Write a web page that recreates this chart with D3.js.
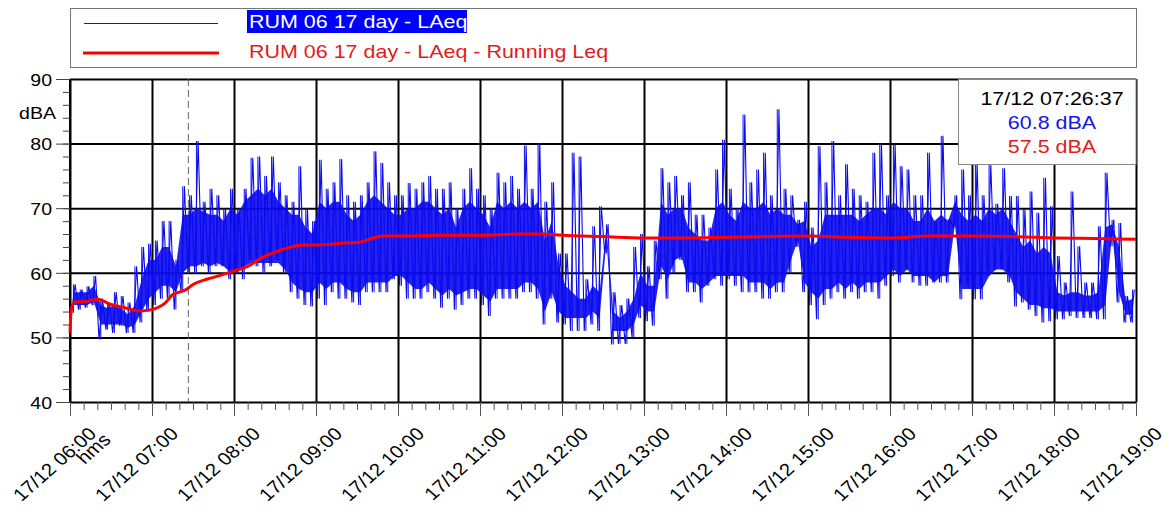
<!DOCTYPE html>
<html><head><meta charset="utf-8">
<script src="https://cdn.jsdelivr.net/npm/d3@7"></script>
<style>
html,body{margin:0;padding:0;background:#fff;}
svg{display:block;font-family:"Liberation Sans",Arial,sans-serif;}
</style></head><body>
<svg id="chart" width="1169" height="517"></svg>
<script>
// ---------------- data ----------------
const seriesNames = ["RUM 06 17 day - LAeq", "RUM 06 17 day - LAeq - Running Leq"];
const startTime = [2000, 11, 17, 6, 0, 0];
const endTime = [2000, 11, 17, 19, 0, 0];
const windowMinutes = 5;
// LAeq: min and max of each 5-minute window (dBA), 06:00 -> 19:00
const laeqLow = [
  53.8,54.3,54.6,55.0,49.7,51.2,50.7,51.8,50.7,50.7,52.3,54.0, // 06
  55.0,56.0,56.0,54.3,57.0,60.0,60.0,61.0,60.0,61.0,61.0,59.0, // 07
  60.0,59.0,62.0,61.0,60.0,61.0,62.0,60.0,57.0,56.0,55.0,54.8, // 08
  56.0,55.0,57.0,56.0,56.0,55.4,55.0,57.0,57.0,57.0,57.0,59.0, // 09
  58.0,56.0,56.0,56.0,57.0,56.0,54.6,56.0,54.3,55.0,56.0,56.0, // 10
  55.0,53.3,56.0,56.0,56.0,56.0,57.0,57.0,56.0,52.0,56.0,52.3, // 11
  52.0,51.0,51.0,51.0,52.0,51.0,63.0,48.9,49.0,49.0,50.0,53.0, // 12
  52.5,51.8,59.0,56.0,60.0,62.0,57.0,57.0,55.4,58.0,59.0,58.0, // 13
  59.0,58.0,57.0,57.0,57.0,56.0,56.0,57.0,57.0,60.0,64.0,57.0, // 14
  55.0,52.8,55.0,56.0,57.0,56.0,57.0,56.0,57.0,57.0,56.0,58.0, // 15
  59.5,58.5,60.5,58.5,58.0,58.0,58.5,58.5,58.5,67.0,55.9,57.9, // 16
  55.9,55.9,59.5,60.5,60.5,58.5,54.8,55.4,54.3,53.3,52.3,52.5, // 17
  52.8,52.8,53.3,53.0,53.0,53.0,52.8,52.8,64.1,55.4,52.3,52.3  // 18
];
const laeqHigh = [
  58.2,57.4,57.9,59.5,56.0,55.4,57.0,56.4,55.4,61.0,64.0,64.5, // 06
  65.0,68.0,68.0,62.0,73.4,72.0,80.4,71.0,73.0,72.0,70.0,73.0, // 07
  70.0,73.0,77.8,78.0,75.0,78.0,74.0,72.0,71.0,76.5,70.0,68.0, // 08
  77.5,73.0,74.0,77.6,72.0,71.0,72.0,74.0,78.8,77.0,74.0,72.0, // 09
  72.0,73.9,73.0,74.0,75.0,73.0,73.0,74.0,70.0,73.0,76.2,73.0, // 10
  72.0,70.0,75.5,74.0,75.0,73.0,79.7,73.0,80.1,71.0,74.0,63.0, // 11
  63.0,78.6,78.0,59.0,67.2,70.3,67.5,57.0,55.0,56.0,64.0,66.0, // 12
  61.0,65.0,76.2,74.0,75.0,72.0,74.0,69.0,69.0,67.0,76.0,80.6, // 13
  73.0,70.0,84.5,74.0,76.0,78.6,72.0,85.3,73.0,72.0,68.2,71.0, // 14
  67.0,79.6,74.0,80.4,72.0,76.8,73.0,72.0,71.0,78.6,80.1,72.0, // 15
  79.8,76.5,76.0,72.0,72.0,78.6,68.0,81.2,68.3,72.0,76.0,72.0, // 16
  77.0,72.0,76.8,70.7,76.2,71.9,71.9,69.8,72.6,69.3,74.7,70.3, // 17
  62.6,58.5,72.6,64.1,58.5,58.5,67.2,75.5,68.2,67.7,56.4,57.4  // 18
];
// LAeq: range where the trace is dense in each 5-minute window (dBA)
const laeqCoreLow = [
  55,55,55,55.5,52,52,52,52,51.5,52,54,56,                        // 06
  57,58,58,57,60,61,61,61.5,61,61.5,61,60,                        // 07
  60,61,61.5,61.5,61.5,61.5,61.5,60.5,58.5,57.5,57,57,            // 08
  58.5,57.5,58.5,58.5,57.5,57,57,58.5,58.5,58.5,58.5,59.5,        // 09
  59.5,58.5,57.5,57.5,58.5,57.5,56.5,57.5,56.5,57,57.5,57.5,      // 10
  56.5,55.5,57.5,57.5,57.5,57.5,58.5,58.5,57.5,54,57,54,          // 11
  53,53,53,53,54,53,65,51,51,51,52,55,                            // 12
  54,54,61,59,62,62.5,58.5,58.5,57.5,58.5,59.5,59.5,              // 13
  59.5,59.5,59.5,58.5,58.5,58.5,57.5,58.5,58.5,62,65,58.5,        // 14
  57,56,57.5,57.5,58.5,57.5,58.5,57.5,58.5,58.5,58.5,59.5,        // 15
  60.5,59.5,60.5,59.5,59.5,59.5,58.5,59.5,59.5,67.5,57.5,57.5,    // 16
  57.5,57.5,59.5,60.5,60.5,59.5,57,56,55,55,54.5,54.5,            // 17
  54,54,54,54,54,54,54,55,66,57,53.5,53.5                         // 18
];
const laeqCoreHigh = [
  57,57,57,58,55,54.5,55,54.5,53.5,55,59,62,                      // 06
  62,64,64,61,69,69,70,69.5,69,69,68,70,                          // 07
  69,71,72,73,72,73,71,70,69,69,67,66,                            // 08
  71,70,71,71,69,68,69,71,72,71,70,69,                            // 09
  69,70,70,71,71,70,69,70,67,70,71,70,                            // 10
  69,67,71,70,71,70,71,70,71,65,68,61,                            // 11
  58,57,56,56,58,57,67,54,53,54,56,60,                            // 12
  58,58,71,69,70,70,67,66,65,65,70,71,                            // 13
  69,68,71,70,70,71,69,70,69,69,67.5,68,                          // 14
  64,65,69,69,69,69,69,68,69,70,70,69,                            // 15
  71,70,70,68,68,70,68,69,68,71,69,68,                            // 16
  69,68,70,69,70,68,66,64,65,63,64,63,                            // 17
  57,56.5,57,57,56.5,56.5,57,67,67.5,64,55.5,56                   // 18
];
// Running Leq (minutes after 06:00, dBA)
const leqMinutes = [0,1,3,5,10,15,20,30,40,50, 60,65,70,75,80,85,90,100,110,120,
  130,140,150,160,170,180,190,200,210,215, 220,230,240,270,300,330,345,360,390,420,
  450,480,510,540,570,600,630,660,690,720, 750,780];
const leqValues = [50.7,54.5,55.4,55.5,55.5,55.7,55.9,55.1,54.6,54.1, 54.3,54.7,55.4,56.6,57.0,57.4,58.2,59.0,59.6,60.3,
  61.0,62.3,63.2,63.9,64.3,64.3,64.4,64.6,64.7,64.9, 65.3,65.7,65.7,65.8,65.8,66.0,66.0,65.8,65.6,65.4,
  65.4,65.5,65.6,65.7,65.5,65.4,65.7,65.7,65.6,65.4, 65.3,65.2];
const yTicks = [40, 50, 60, 70, 80, 90];
const yMinorStep = 2;
const yUnit = "dBA";
const xUnit = "hms";
const cursorTime = [2000, 11, 17, 7, 26, 37];
const cursorLabel = "17/12 07:26:37";
const cursorValues = [60.8, 57.5];

// ---------------- layout ----------------
const L = 70, R = 1136, T = 79, B = 402;
const SX = 1.13; // horizontal text stretch of the original
const BLUE = "#0a0af0", RED = "#ff0000", REDTXT = "#e21b1b";

const mk = a => new Date(a[0], a[1], a[2], a[3], a[4], a[5] || 0);
const t0 = mk(startTime), t1 = mk(endTime);
const x = d3.scaleTime().domain([t0, t1]).range([L, R]);
const y = d3.scaleLinear().domain([yTicks[0], yTicks[yTicks.length - 1]]).range([B, T]);
const svg = d3.select("#chart");
const at = m => d3.timeSecond.offset(t0, Math.round(m * 60));

// grid
const gx = svg.append("g").attr("transform", `translate(0,${B})`)
  .call(d3.axisBottom(x).ticks(d3.timeHour.every(1)).tickSize(-(B - T)).tickFormat(""));
gx.select(".domain").remove();
gx.selectAll("line").attr("stroke", "#000").attr("stroke-width", 2);
const gy = svg.append("g").attr("transform", `translate(${L},0)`)
  .call(d3.axisLeft(y).tickValues(yTicks).tickSize(-(R - L)).tickFormat(""));
gy.select(".domain").remove();
gy.selectAll("line").attr("stroke", "#000").attr("stroke-width", 2);
svg.append("line").attr("x1", L).attr("x2", L).attr("y1", T).attr("y2", B).attr("stroke", "#000").attr("stroke-width", 2);

// cursor line
const cx = x(mk(cursorTime));
svg.append("line").attr("x1", cx).attr("x2", cx).attr("y1", T).attr("y2", B)
  .attr("stroke", "#666").attr("stroke-width", 1).attr("stroke-dasharray", "7,4");

// blue LAeq trace: dense core band + min/max excursions
const core = laeqCoreLow.map((lo, i) => [at(i * windowMinutes + 2.5), lo, laeqCoreHigh[i]]);
svg.append("path").datum(core)
  .attr("d", d3.area().x(d => x(d[0])).y0(d => y(d[1])).y1(d => y(d[2])))
  .attr("fill", BLUE).attr("fill-opacity", 0.9);
svg.append("g").selectAll("line").data(laeqLow).join("line")
  .attr("x1", (d, i) => x(at(i * windowMinutes + 2.5))).attr("x2", (d, i) => x(at(i * windowMinutes + 2.5)))
  .attr("y1", d => y(d)).attr("y2", (d, i) => y(laeqHigh[i]))
  .attr("stroke", BLUE).attr("stroke-width", 1);
const pts = [];
laeqLow.forEach((lo, i) => {
  pts.push([at(i * windowMinutes + 1.25), lo]);
  pts.push([at(i * windowMinutes + 3.75), laeqHigh[i]]);
});
svg.append("path").datum(pts)
  .attr("d", d3.line().x(d => x(d[0])).y(d => y(d[1])))
  .attr("fill", "none").attr("stroke", BLUE).attr("stroke-width", 1.1);

// red running Leq
svg.append("path").datum(leqMinutes.map((m, i) => [at(m), leqValues[i]]))
  .attr("d", d3.line().curve(d3.curveMonotoneX).x(d => x(d[0])).y(d => y(d[1])))
  .attr("fill", "none").attr("stroke", RED).attr("stroke-width", 3);

// y axis ticks
const yMinor = d3.range(yTicks[0], yTicks[yTicks.length - 1] + 0.01, yMinorStep);
const ay2 = svg.append("g").attr("transform", `translate(${L},0)`)
  .call(d3.axisLeft(y).tickValues(yMinor).tickSize(7).tickFormat(""));
ay2.select(".domain").remove();
ay2.selectAll("line").attr("stroke", "#444");
const ay = svg.append("g").attr("transform", `translate(${L},0)`)
  .call(d3.axisLeft(y).tickValues(yTicks).tickSize(14).tickFormat(d3.format("d")));
ay.select(".domain").remove();
ay.selectAll("line").attr("stroke", "#444");
ay.attr("font-size", null).attr("font-family", null);
ay.selectAll("text").attr("x", 0).attr("dy", "0.36em").attr("fill", "#000")
  .style("font-size", "17.3px").attr("transform", `translate(-18,0) scale(${SX},1)`);
svg.append("text").text(yUnit).attr("text-anchor", "end")
  .attr("transform", `translate(56,119) scale(${SX},1)`).style("font-size", "17.3px");

// x axis ticks
const ax2 = svg.append("g").attr("transform", `translate(0,${B})`)
  .call(d3.axisBottom(x).ticks(d3.timeMinute.every(10)).tickSize(8).tickFormat(""));
ax2.select(".domain").remove();
ax2.selectAll("line").attr("stroke", "#555");
const fmt = d3.timeFormat("%d/%m %H:%M");
const ax = svg.append("g").attr("transform", `translate(0,${B})`)
  .call(d3.axisBottom(x).ticks(d3.timeHour.every(1)).tickSize(14).tickFormat(fmt));
ax.select(".domain").remove();
ax.selectAll("line").attr("stroke", "#555");
ax.attr("font-size", null).attr("font-family", null);
ax.selectAll("text").attr("y", 0).attr("dy", null).attr("text-anchor", "end").attr("fill", "#000")
  .style("font-size", "18px").attr("transform", `translate(27,33) scale(${SX},1) rotate(-45)`);
svg.append("text").text(xUnit).attr("text-anchor", "end").style("font-size", "18px")
  .attr("transform", `translate(${L + 42},${B + 39}) scale(${SX},1) rotate(-45)`);

// cursor readout box
svg.append("rect").attr("x", 958.5).attr("y", T + 0.5).attr("width", R - 958.5).attr("height", 85)
  .attr("fill", "#fff").attr("stroke", "#888").attr("stroke-width", 1);
[[cursorLabel, "#000", 105], [cursorValues[0].toFixed(1) + " " + yUnit, "#1414e6", 129],
 [cursorValues[1].toFixed(1) + " " + yUnit, REDTXT, 153]].forEach(([t, c, by]) => {
  svg.append("text").text(t).attr("text-anchor", "middle").attr("fill", c).style("font-size", "19px")
    .attr("transform", `translate(1052,${by}) scale(${SX},1)`);
});

// legend
svg.append("rect").attr("x", L + 0.5).attr("y", 8.5).attr("width", R - L).attr("height", 59)
  .attr("fill", "none").attr("stroke", "#777").attr("stroke-width", 1);
svg.append("line").attr("x1", 84).attr("x2", 218).attr("y1", 23.5).attr("y2", 23.5)
  .attr("stroke", "#1010e8").attr("stroke-width", 1.2);
svg.append("line").attr("x1", 83).attr("x2", 219).attr("y1", 53).attr("y2", 53)
  .attr("stroke", RED).attr("stroke-width", 3);
svg.append("rect").attr("x", 247).attr("y", 10).attr("width", 220).attr("height", 23).attr("fill", "#0000ff");
svg.append("text").text(seriesNames[0]).attr("fill", "#fff").style("font-size", "19px")
  .attr("transform", `translate(249,28) scale(${SX},1)`);
svg.append("text").text(seriesNames[1]).attr("fill", REDTXT).style("font-size", "19px")
  .attr("transform", `translate(249,58) scale(${SX},1)`);
</script>
</body></html>
